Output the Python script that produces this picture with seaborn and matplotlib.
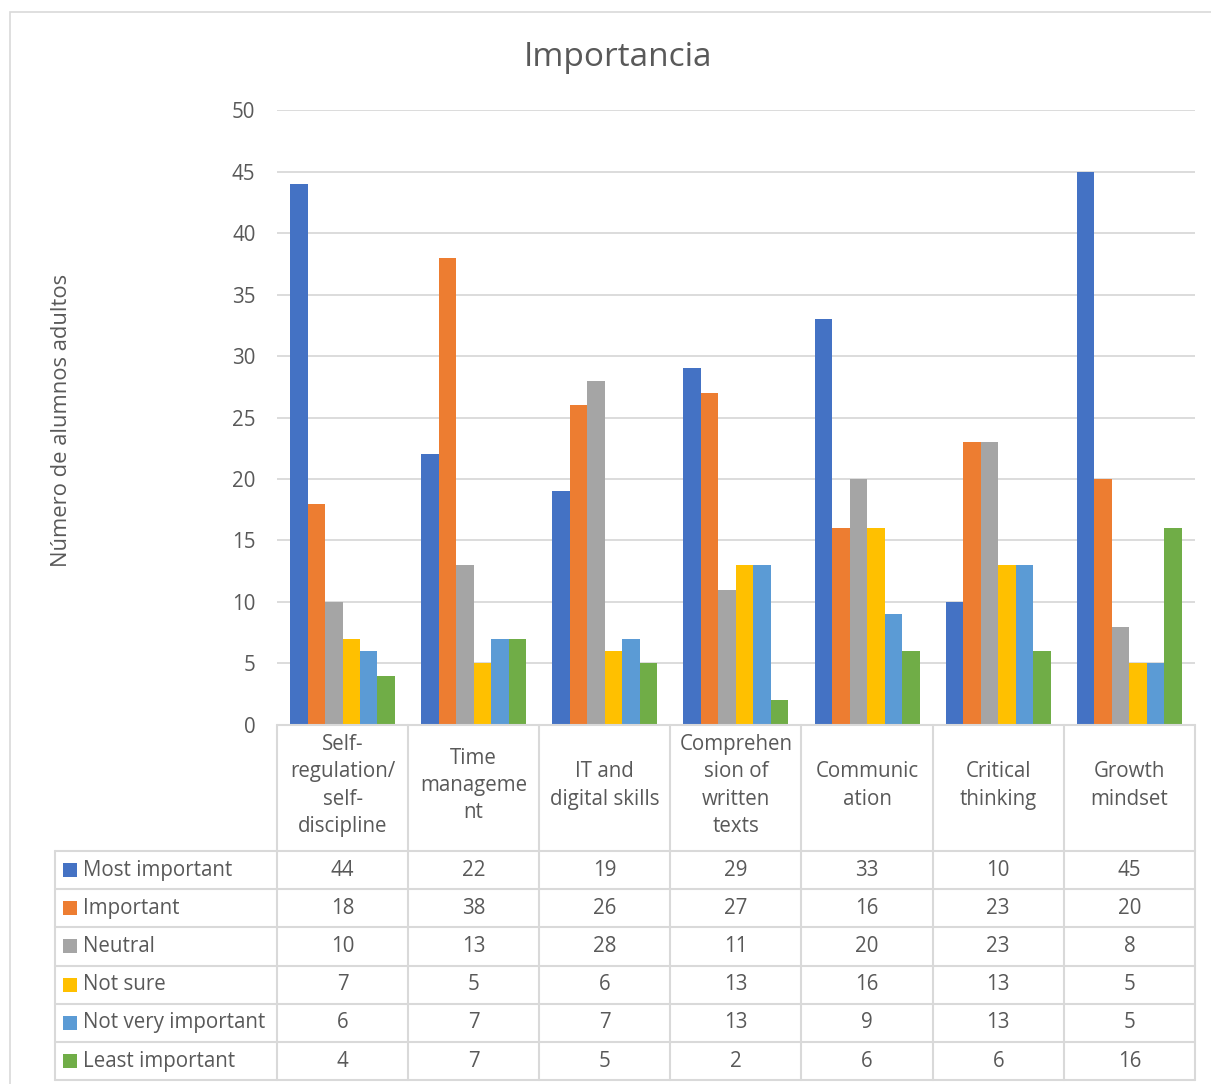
import matplotlib
matplotlib.use("Agg")
import matplotlib.pyplot as plt
import matplotlib.transforms as mtransforms
from matplotlib.patches import Rectangle
import seaborn as sns
import pandas as pd

categories = ["Self-regulation/self-discipline", "Time management", "IT and digital skills",
              "Comprehension of written texts", "Communication", "Critical thinking", "Growth mindset"]
category_labels = ["Self-\nregulation/\nself-\ndiscipline", "Time\nmanageme\nnt", "IT and\ndigital skills",
                   "Comprehen\nsion of\nwritten\ntexts", "Communic\nation", "Critical\nthinking", "Growth\nmindset"]
series = ["Most important", "Important", "Neutral", "Not sure", "Not very important", "Least important"]
most_important = [44, 22, 19, 29, 33, 10, 45]
important = [18, 38, 26, 27, 16, 23, 20]
neutral = [10, 13, 28, 11, 20, 23, 8]
not_sure = [7, 5, 6, 13, 16, 13, 5]
not_very_important = [6, 7, 7, 13, 9, 13, 5]
least_important = [4, 7, 5, 2, 6, 6, 16]
values = [most_important, important, neutral, not_sure, not_very_important, least_important]
colors = ["#4472C4", "#ED7D31", "#A5A5A5", "#FFC000", "#5B9BD5", "#70AD47"]

rows = []
for s, vals in zip(series, values):
    for c, v in zip(categories, vals):
        rows.append({"category": c, "series": s, "value": v})
df = pd.DataFrame(rows)

sns.set_theme(style="white")
plt.rcParams["font.family"] = ["Open Sans", "DejaVu Sans"]
text_color = "#595959"
grid_color = "#d9d9d9"
fs = 14.8

fig = plt.figure(figsize=(12.11, 10.84), dpi=100)
ax = fig.add_axes([0.2287, 0.3312, 0.758, 0.5673])

sns.barplot(data=df, x="category", y="value", hue="series", order=categories,
            hue_order=series, palette=colors, width=0.8, saturation=1,
            edgecolor="none", linewidth=0, ax=ax, legend=False)

ax.set_xlim(-0.5, len(categories) - 0.5)
ax.set_ylim(0, 50)
ax.set_yticks(range(0, 51, 5))
ax.yaxis.grid(True, color=grid_color, linewidth=1.3)
ax.set_axisbelow(True)
for sp in ax.spines.values():
    sp.set_visible(False)
ax.tick_params(axis="y", length=0, pad=15.5, labelsize=fs, labelcolor=text_color)
ax.set_xticks([])
ax.set_xlabel("")
ax.set_ylabel("")

fig.text(618 / 1211, 1 - 57 / 1084, "Importancia", ha="center", va="center",
         fontsize=24, color=text_color)
fig.text(62 / 1211, 1 - 420 / 1084, "Número de alumnos adultos", ha="center", va="center",
         rotation=90, fontsize=fs + 1, color=text_color)

# Data table below the plot
trans = mtransforms.blended_transform_factory(ax.transData, ax.transAxes)
ax_h_px = 0.5673 * 1084
cat_px = 0.758 * 1211 / len(categories)
header_h = 126 / ax_h_px
row_h = 38.2 / ax_h_px
left_x = -0.5 - 222 / cat_px
right_x = len(categories) - 0.5
table_bottom = -header_h - row_h * len(series)
lkw = dict(color=grid_color, linewidth=1.5, transform=trans, clip_on=False)

ax.plot([-0.5, right_x], [0, 0], **lkw)
for r in range(len(series) + 1):
    y = -header_h - r * row_h
    ax.plot([left_x, right_x], [y, y], **lkw)
ax.plot([left_x, left_x], [-header_h, table_bottom], **lkw)
for i in range(len(categories) + 1):
    x = i - 0.5
    ax.plot([x, x], [0, table_bottom], **lkw)

for i, lab in enumerate(category_labels):
    ax.text(i, -header_h / 2 + 0.004, lab, transform=trans, ha="center", va="center",
            fontsize=fs, color=text_color, linespacing=1.38, clip_on=False)

key_w = 14 / cat_px
key_h = 14 / ax_h_px
for r, (s, vals, col) in enumerate(zip(series, values, colors)):
    yc = -header_h - (r + 0.5) * row_h
    ax.add_patch(Rectangle((left_x + 8 / cat_px, yc - key_h / 2), key_w, key_h,
                           transform=trans, facecolor=col, edgecolor="none", clip_on=False))
    ax.text(left_x + 28 / cat_px, yc, s, transform=trans, ha="left", va="center",
            fontsize=fs, color=text_color, clip_on=False)
    for i, v in enumerate(vals):
        ax.text(i, yc, str(v), transform=trans, ha="center", va="center",
                fontsize=fs, color=text_color, clip_on=False)

# Chart frame
fig.patches.append(Rectangle((10 / 1211, -0.01), 1.0, 1 - 12 / 1084 + 0.01,
                             transform=fig.transFigure, facecolor="none",
                             edgecolor=grid_color, linewidth=1.2))

fig.savefig("out.png", dpi=100)
